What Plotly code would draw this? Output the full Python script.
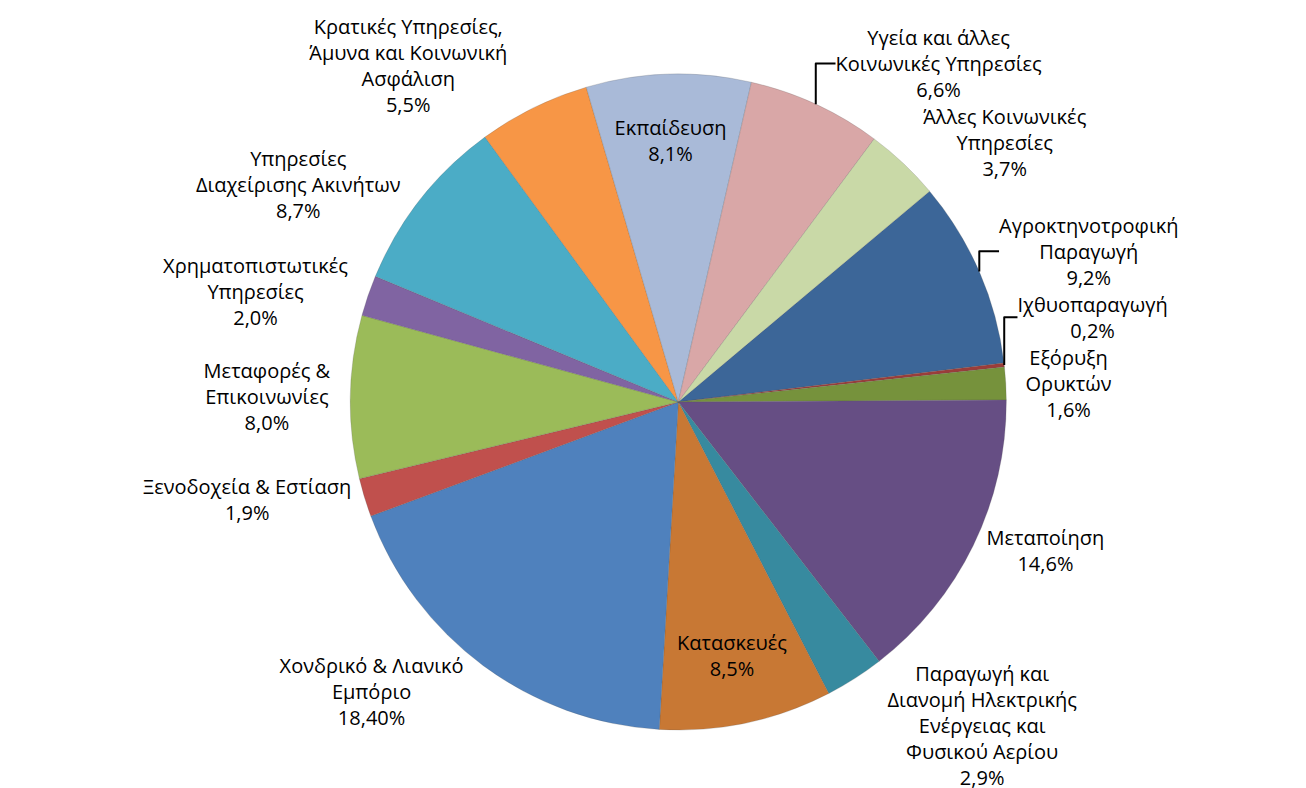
import plotly.graph_objects as go

sectors = [
    "Αγροκτηνοτροφική<br>Παραγωγή",
    "Ιχθυοπαραγωγή",
    "Εξόρυξη<br>Ορυκτών",
    "Μεταποίηση",
    "Παραγωγή και<br>Διανομή Ηλεκτρικής<br>Ενέργειας και<br>Φυσικού Αερίου",
    "Κατασκευές",
    "Χονδρικό & Λιανικό<br>Εμπόριο",
    "Ξενοδοχεία & Εστίαση",
    "Μεταφορές &<br>Επικοινωνίες",
    "Χρηματοπιστωτικές<br>Υπηρεσίες",
    "Υπηρεσίες<br>Διαχείρισης Ακινήτων",
    "Κρατικές Υπηρεσίες,<br>Άμυνα και Κοινωνική<br>Ασφάλιση",
    "Εκπαίδευση",
    "Υγεία και άλλες<br>Κοινωνικές Υπηρεσίες",
    "Άλλες Κοινωνικές<br>Υπηρεσίες",
]
shares = [9.2, 0.2, 1.6, 14.6, 2.9, 8.5, 18.4, 1.9, 8.0, 2.0, 8.7, 5.5, 8.1, 6.6, 3.7]
decimals = [1, 1, 1, 1, 1, 1, 2, 1, 1, 1, 1, 1, 1, 1, 1]
inside = ["Κατασκευές", "Εκπαίδευση"]

colors = [
    "#3C6698", "#9B3D3A", "#76923C", "#664E84", "#378A9F", "#C87834",
    "#4F81BD", "#C0504D", "#9BBB59", "#8064A2", "#4BACC6", "#F79646",
    "#A9BAD8", "#D9A7A7", "#C9D9A7",
]

templates = ["%{label}<br>%{value:." + str(d) + "f}%" for d in decimals]
positions = ["inside" if s in inside else "outside" for s in sectors]

font = dict(family="Open Sans, Noto Sans, sans-serif", size=20, color="#000000")

fig = go.Figure(go.Pie(
    labels=sectors,
    values=shares,
    sort=False,
    direction="clockwise",
    rotation=50,
    marker=dict(colors=colors, line=dict(color="rgba(80,80,80,0.35)", width=0.6)),
    texttemplate=templates,
    textposition=positions,
    insidetextorientation="horizontal",
    textfont=font,
    outsidetextfont=font,
    insidetextfont=font,
    hoverinfo="label+percent",
    showlegend=False,
    domain=dict(x=[0, 0.93], y=[0, 1]),
))

fig.update_layout(
    width=1306,
    height=788,
    margin=dict(l=10, r=10, t=12, b=30),
    paper_bgcolor="white",
    plot_bgcolor="white",
    separators=",.",
)

fig.write_html("out.html")
